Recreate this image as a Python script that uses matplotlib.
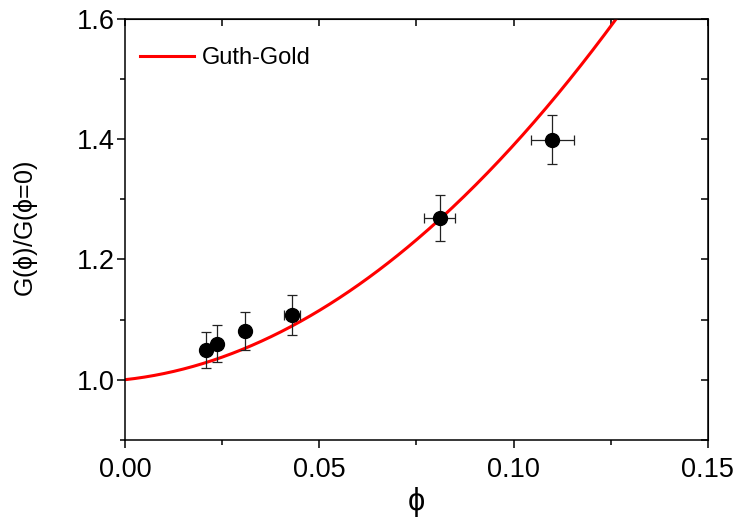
import numpy as np
import matplotlib
matplotlib.use("Agg")
import matplotlib.pyplot as plt
from matplotlib.ticker import MultipleLocator

plt.rcParams["font.family"] = ["Liberation Sans", "DejaVu Sans"]
plt.rcParams["mathtext.fontset"] = "stix"

# measured points (volume fraction, normalised modulus) with error bars
phi = [0.0209, 0.0238, 0.031, 0.043, 0.081, 0.110]
g_ratio = [1.050, 1.060, 1.081, 1.107, 1.269, 1.399]
g_err = [0.030, 0.031, 0.032, 0.033, 0.038, 0.041]
phi_err = [0.0, 0.0, 0.0, 0.002, 0.004, 0.0055]

# Guth-Gold type curve: 1 + a*phi + b*phi^2 (coefficients)
GG_A = 0.7
GG_B = 32.0

fig = plt.figure(figsize=(7.35, 5.23), dpi=100)
ax = fig.add_axes([0.170, 0.159, 0.793, 0.805])

x_curve = np.linspace(0, 0.15, 300)
y_curve = 1 + GG_A * x_curve + GG_B * x_curve ** 2
ax.plot(x_curve, y_curve, color="#ff0000", lw=2.2, label="Guth-Gold", zorder=2)

ax.errorbar(phi, g_ratio, yerr=g_err, xerr=phi_err, fmt="o", color="black",
            ms=10, ecolor="#222222", elinewidth=0.9, capsize=3.5, capthick=0.9,
            zorder=3)

ax.set_xlim(0, 0.15)
ax.set_ylim(0.9, 1.6)
ax.xaxis.set_major_locator(MultipleLocator(0.05))
ax.xaxis.set_minor_locator(MultipleLocator(0.025))
ax.yaxis.set_major_locator(MultipleLocator(0.2))
ax.yaxis.set_minor_locator(MultipleLocator(0.1))
ax.xaxis.set_major_formatter(plt.FormatStrFormatter("%.2f"))
ax.yaxis.set_major_formatter(plt.FormatStrFormatter("%.1f"))

ax.tick_params(which="both", direction="out", top=False, right=False,
               labelsize=19.5, width=1.1)
ax.tick_params(which="major", length=6)
ax.tick_params(which="minor", length=3.5)
ax.tick_params(axis="x", which="major", pad=6)
ax.tick_params(axis="y", which="major", pad=1.5)
for s in ax.spines.values():
    s.set_linewidth(1.1)

# inward ticks on top and right
ax_top = ax.secondary_xaxis("top")
ax_top.xaxis.set_major_locator(MultipleLocator(0.025))
ax_top.tick_params(direction="in", length=5, width=1.1, labeltop=False)
ax_right = ax.secondary_yaxis("right")
ax_right.yaxis.set_major_locator(MultipleLocator(0.1))
ax_right.tick_params(direction="in", length=5, width=1.1, labelright=False)

ax.set_xlabel(r"$\mathregular{\phi}$", fontsize=22, labelpad=2)
ax.set_ylabel(r"G($\mathregular{\phi}$)/G($\mathregular{\phi}$=0)", fontsize=18, labelpad=26)

ax.legend(loc="center left", bbox_to_anchor=(0.026, 0.907), frameon=False,
          fontsize=17, handlelength=2.3, handletextpad=0.3,
          borderpad=0, borderaxespad=0)

fig.savefig("out.png", dpi=100)
